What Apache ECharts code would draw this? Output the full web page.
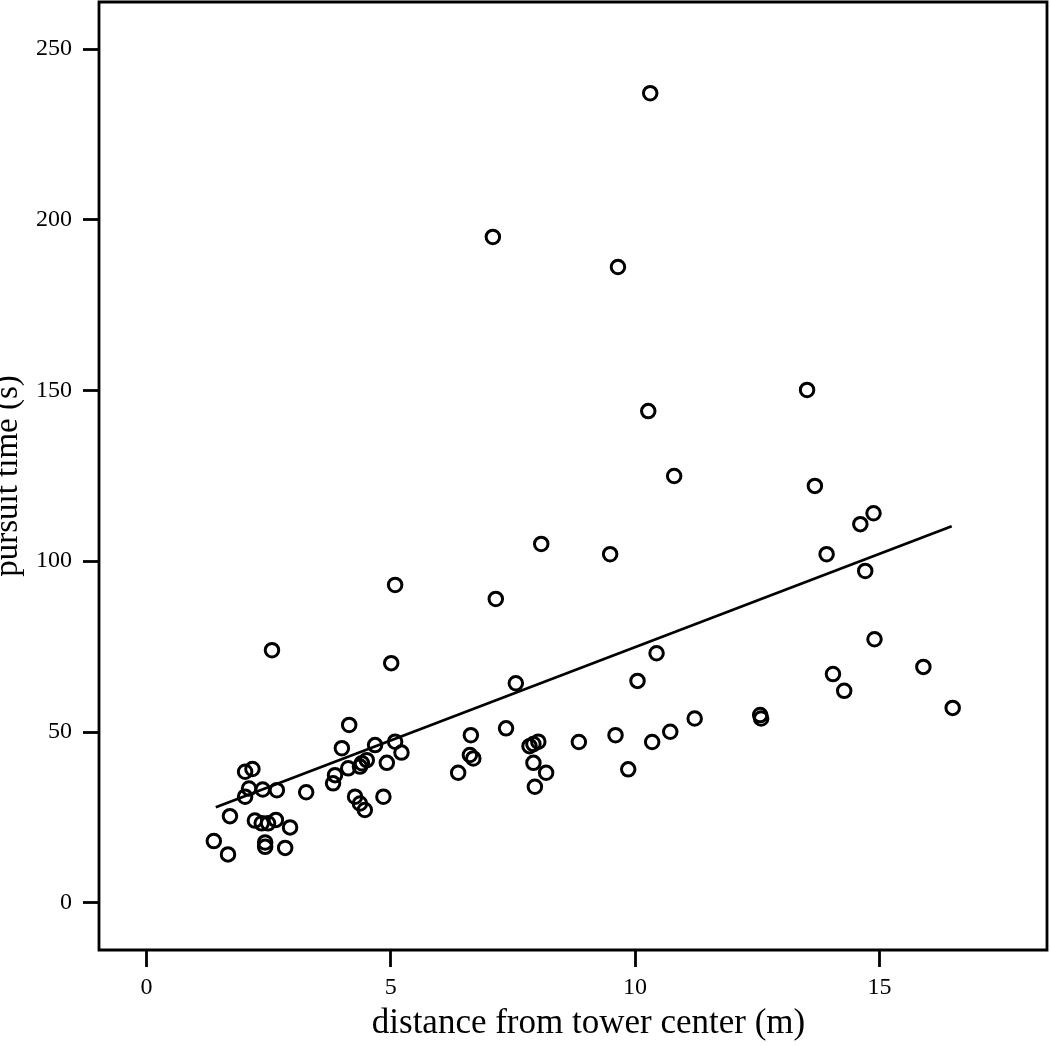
<!DOCTYPE html>
<html>
<head>
<meta charset="utf-8">
<script src="https://cdn.jsdelivr.net/npm/echarts@6/dist/echarts.min.js"></script>
<style>
html,body{margin:0;padding:0;background:#fff;}
#chart{width:1050px;height:1046px;}
</style>
</head>
<body>
<div id="chart"></div>
<script>
// distance from tower center (m)
var distance = [
  10.31, 7.09, 9.65, 13.52, 10.27, 10.80, 13.68, 14.88, 14.61, 8.08,
  9.49, 13.92, 14.71, 5.09, 7.15, 14.90, 2.57, 5.01, 10.44, 7.56,
  10.05, 14.05, 15.90, 14.28, 16.50, 12.56, 12.58, 11.22, 10.72, 10.35,
  9.60, 8.85, 9.86, 7.36, 6.64, 6.62, 6.69, 6.38, 8.02, 7.92,
  7.84, 7.92, 8.18, 7.95, 4.15, 4.00, 4.68, 5.09, 5.22, 4.92,
  4.51, 4.41, 4.37, 4.13, 3.86, 3.82, 4.27, 4.37, 4.47, 4.85,
  3.27, 2.02, 2.17, 2.10, 2.38, 2.67, 2.02, 1.71, 2.22, 2.36,
  2.49, 2.65, 2.94, 1.38, 1.67, 2.43, 2.43, 2.84
];
// pursuit time (s)
var pursuitTime = [
  237.0, 194.9, 186.1, 150.1, 143.9, 124.9, 122.0, 114.0, 110.8, 105.0,
  102.0, 102.0, 97.1, 93.0, 88.9, 77.1, 73.9, 70.1, 73.0, 64.2,
  64.9, 66.9, 69.0, 62.0, 57.0, 54.9, 53.9, 53.9, 50.0, 47.0,
  49.0, 47.0, 39.0, 51.0, 49.0, 43.2, 42.2, 38.0, 47.1, 46.4,
  45.8, 40.9, 38.0, 33.9, 52.0, 45.2, 46.1, 47.1, 43.9, 40.9,
  41.7, 40.8, 39.8, 39.3, 37.3, 34.9, 31.0, 29.0, 27.1, 31.0,
  32.3, 38.3, 39.1, 33.4, 33.1, 32.9, 31.0, 25.3, 24.0, 23.2,
  23.2, 24.2, 22.0, 18.0, 14.1, 17.6, 16.3, 16.0
];
// fitted regression line endpoints
var fitX = [1.42, 16.48];
var fitY = [27.9, 110.2];
// tick labels
var xTicks = [0, 5, 10, 15];
var yTicks = [0, 50, 100, 150, 200, 250];
var xTitle = 'distance from tower center (m)';
var yTitle = 'pursuit time (s)';

var points = distance.map(function (d, i) { return [d, pursuitTime[i]]; });
var fitLine = fitX.map(function (d, i) { return [d, fitY[i]]; });

var serif = '"Liberation Serif", "Times New Roman", serif';
var chart = echarts.init(document.getElementById('chart'), null, {renderer: 'canvas'});
chart.setOption({
  backgroundColor: '#ffffff',
  animation: false,
  grid: {
    left: 99, right: 3, top: 2, bottom: 96,
    outerBoundsMode: 'none', containLabel: false,
    show: true, borderColor: '#000', borderWidth: 2.8, backgroundColor: 'transparent'
  },
  xAxis: {
    type: 'value', min: -0.97, max: 18.43,
    axisLine: {show: false, onZero: false},
    splitLine: {show: false},
    axisTick: {show: true, customValues: xTicks, length: 17, lineStyle: {color: '#000', width: 2.8}},
    axisLabel: {customValues: xTicks, margin: 26, color: '#000', fontFamily: serif, fontSize: 24},
    name: xTitle, nameLocation: 'middle', nameGap: 56,
    nameTextStyle: {fontFamily: serif, fontSize: 35, color: '#000', padding: [0, 0, 0, 31]}
  },
  yAxis: {
    type: 'value', min: -13.9, max: 263.7,
    axisLine: {show: false, onZero: false},
    splitLine: {show: false},
    axisTick: {show: true, customValues: yTicks, length: 16, lineStyle: {color: '#000', width: 2.8}},
    axisLabel: {customValues: yTicks, margin: 27, color: '#000', fontFamily: serif, fontSize: 24},
    name: yTitle, nameLocation: 'middle', nameGap: 58, nameRotate: 90,
    nameTextStyle: {fontFamily: serif, fontSize: 33, color: '#000'}
  },
  series: [
    {
      type: 'scatter', data: points, symbol: 'circle', symbolSize: 13.5,
      itemStyle: {color: 'rgba(0,0,0,0)', borderColor: '#000', borderWidth: 3, opacity: 1},
      z: 2
    },
    {
      type: 'line', data: fitLine, symbol: 'none', silent: true,
      lineStyle: {color: '#000', width: 2.8}, z: 3
    }
  ]
});
</script>
</body>
</html>
